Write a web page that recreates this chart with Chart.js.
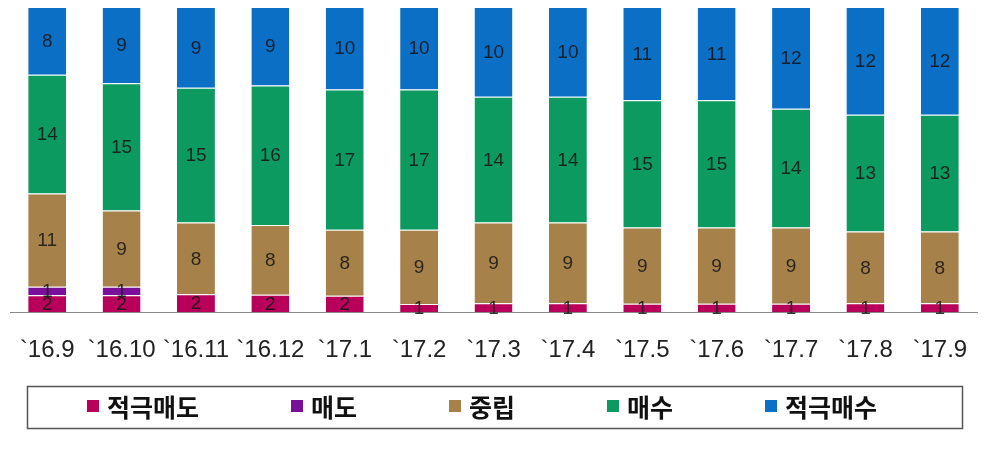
<!DOCTYPE html>
<html>
<head>
<meta charset="utf-8">
<script src="https://cdn.jsdelivr.net/npm/chart.js@4.4.1/dist/chart.umd.min.js"></script>
<style>
  html, body { margin: 0; padding: 0; background: #fff; }
  #wrap { width: 987px; height: 451px; }
</style>
</head>
<body>
<div id="wrap"><canvas id="opinionChart"></canvas></div>
<script>
// Data (counts per month)
const months = ['`16.9', '`16.10', '`16.11', '`16.12', '`17.1', '`17.2', '`17.3', '`17.4', '`17.5', '`17.6', '`17.7', '`17.8', '`17.9'];
const strongSell = [2, 2, 2, 2, 2, 1, 1, 1, 1, 1, 1, 1, 1];
const sell = [1, 1, 0, 0, 0, 0, 0, 0, 0, 0, 0, 0, 0];
const neutral = [11, 9, 8, 8, 8, 9, 9, 9, 9, 9, 9, 8, 8];
const buy = [14, 15, 15, 16, 17, 17, 14, 14, 15, 15, 14, 13, 13];
const strongBuy = [8, 9, 9, 9, 10, 10, 10, 10, 11, 11, 12, 12, 12];

const seriesNames = ['적극매도', '매도', '중립', '매수', '적극매수'];
const seriesColors = ['#b8005a', '#7a109a', '#a6814a', '#0d9a60', '#0b6fc6'];
const seriesValues = [strongSell, sell, neutral, buy, strongBuy];

// totals for 100% stacking
const totals = months.map((m, i) => seriesValues.reduce((acc, arr) => acc + arr[i], 0));

const datasets = seriesNames.map((name, k) => ({
    label: name,
    data: seriesValues[k].map((v, i) => v / totals[i] * 100),
    raw: seriesValues[k],
    backgroundColor: seriesColors[k],
    borderColor: 'rgba(255,255,255,0.9)',
    borderWidth: { top: 1, left: 0, right: 0, bottom: 0 },
    borderSkipped: false,
    categoryPercentage: 1,
    barPercentage: 0.51
}));

// value labels in the middle of every segment
const segmentLabels = {
    id: 'segmentLabels',
    afterDatasetsDraw(chart) {
        const ctx = chart.ctx;
        ctx.save();
        ctx.font = '19px "Liberation Sans", Arial, sans-serif';
        ctx.fillStyle = 'rgba(20,20,20,0.85)';
        ctx.textAlign = 'center';
        ctx.textBaseline = 'middle';
        chart.data.datasets.forEach((ds, k) => {
            const meta = chart.getDatasetMeta(k);
            meta.data.forEach((bar, i) => {
                const v = ds.raw[i];
                if (!v) return;
                ctx.fillText(String(v), bar.x, (bar.y + bar.base) / 2 + 1);
            });
        });
        ctx.restore();
    }
};

// boxed legend under the axis labels
const boxLegend = {
    id: 'boxLegend',
    afterDraw(chart) {
        const ctx = chart.ctx;
        ctx.save();
        ctx.strokeStyle = '#555';
        ctx.lineWidth = 1.5;
        ctx.strokeRect(27.5, 386.5, 935, 42);
        ctx.font = 'bold 25px "Noto Sans CJK KR", sans-serif';
        ctx.textBaseline = 'middle';
        let x = 87;
        const y = 407;
        chart.data.datasets.forEach((ds) => {
            ctx.fillStyle = ds.backgroundColor;
            ctx.fillRect(x, y - 7, 12, 12);
            ctx.fillStyle = '#111';
            ctx.fillText(ds.label, x + 20, y);
            x += 20 + ctx.measureText(ds.label).width + 92;
        });
        ctx.restore();
    }
};

new Chart(document.getElementById('opinionChart'), {
    type: 'bar',
    data: { labels: months, datasets: datasets },
    plugins: [segmentLabels, boxLegend],
    options: {
        responsive: true,
        maintainAspectRatio: false,
        animation: false,
        layout: { padding: { left: 10, right: 10, top: 7, bottom: 86 } },
        plugins: {
            legend: { display: false },
            tooltip: { enabled: false }
        },
        scales: {
            x: {
                stacked: true,
                // invisible tick marks give the gap under the axis line
                grid: { display: true, drawOnChartArea: false, drawTicks: true, tickLength: 24, color: 'rgba(0,0,0,0)' },
                border: { display: true, color: '#8a8a8a', width: 1 },
                ticks: {
                    color: '#222',
                    padding: 0,
                    autoSkip: false,
                    maxRotation: 0,
                    font: { family: '"Liberation Sans", Arial, sans-serif', size: 24 }
                }
            },
            y: {
                stacked: true,
                display: false,
                min: 0,
                max: 100
            }
        }
    }
});
</script>
</body>
</html>
